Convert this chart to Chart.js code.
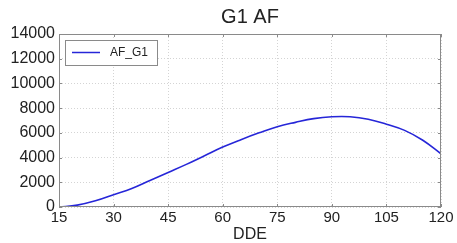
<!DOCTYPE html>
<html>
<head>
<meta charset="utf-8">
<script src="https://cdn.jsdelivr.net/npm/chart.js@4/dist/chart.umd.min.js"></script>
<style>
    html, body { margin: 0; padding: 0; background: #fff; }
    #wrap { width: 457px; height: 243px; }
</style>
</head>
<body>
<div id="wrap"><canvas id="afChart"></canvas></div>
<script>
// Data
const dde = [15, 20, 25, 30, 35, 40, 45, 50, 55, 60, 65, 70, 75, 80, 85, 90, 95, 100, 105, 110, 115, 120];
const afG1 = [0, 150, 500, 1000, 1500, 2150, 2800, 3450, 4150, 4850, 5450, 6000, 6500, 6850, 7150, 7300, 7300, 7100, 6700, 6200, 5400, 4300];
const xTicks = [15, 30, 45, 60, 75, 90, 105, 120];
const yTicks = [0, 2000, 4000, 6000, 8000, 10000, 12000, 14000];

const FONT = 'Arial, "Liberation Sans", sans-serif';
const LINE_COLOR = '#2626d8';

// Box round the plot, inward tick marks and the legend inside the plot
const framePlugin = {
    id: 'frame',
    afterDraw(chart) {
        const { ctx, chartArea: a, scales } = chart;
        ctx.save();
        ctx.strokeStyle = '#8a8a8a';
        ctx.lineWidth = 1;
        ctx.strokeRect(a.left + 0.5, a.top + 0.5, a.right - a.left - 1, a.bottom - a.top - 1);

        ctx.beginPath();
        xTicks.forEach(v => {
            const x = Math.round(scales.x.getPixelForValue(v)) + 0.5;
            ctx.moveTo(x, a.bottom); ctx.lineTo(x, a.bottom - 3);
            ctx.moveTo(x, a.top); ctx.lineTo(x, a.top + 3);
        });
        yTicks.forEach(v => {
            const y = Math.round(scales.y.getPixelForValue(v)) + 0.5;
            ctx.moveTo(a.left, y); ctx.lineTo(a.left + 3, y);
            ctx.moveTo(a.right, y); ctx.lineTo(a.right - 3, y);
        });
        ctx.stroke();

        // legend
        const lx = a.left + 6, ly = a.top + 6, lw = 92, lh = 25;
        ctx.fillStyle = '#fff';
        ctx.fillRect(lx, ly, lw, lh);
        ctx.strokeStyle = '#8a8a8a';
        ctx.strokeRect(lx + 0.5, ly + 0.5, lw, lh);
        ctx.strokeStyle = LINE_COLOR;
        ctx.lineWidth = 1.5;
        ctx.beginPath();
        ctx.moveTo(lx + 7, ly + 12.5);
        ctx.lineTo(lx + 35, ly + 12.5);
        ctx.stroke();
        ctx.fillStyle = '#222';
        ctx.font = '12px ' + FONT;
        ctx.textBaseline = 'middle';
        ctx.fillText(chart.data.datasets[0].label, lx + 45, ly + 13);
        ctx.restore();
    }
};

new Chart(document.getElementById('afChart'), {
    type: 'line',
    data: {
        labels: dde,
        datasets: [{
            label: 'AF_G1',
            data: dde.map((x, i) => ({ x, y: afG1[i] })),
            borderColor: LINE_COLOR,
            borderWidth: 1.6,
            pointRadius: 0,
            tension: 0.4,
            fill: false
        }]
    },
    options: {
        responsive: true,
        maintainAspectRatio: false,
        animation: false,
        layout: { padding: { top: 0, right: 16, bottom: 0, left: 0 } },
        plugins: {
            legend: { display: false },
            tooltip: { enabled: false },
            title: {
                display: true,
                fullSize: false,
                text: 'G1 AF',
                color: '#222',
                font: { family: FONT, size: 20, weight: 'normal' },
                padding: { top: 5, bottom: 5 }
            }
        },
        scales: {
            x: {
                type: 'linear',
                min: 15,
                max: 120,
                afterBuildTicks: axis => { axis.ticks = xTicks.map(v => ({ value: v })); },
                afterFit: axis => { axis.height = 36; },
                ticks: {
                    color: '#222',
                    padding: 2,
                    maxRotation: 0,
                    font: { family: FONT, size: 15 },
                    callback: v => String(v)
                },
                grid: { color: '#d4d4d4', drawTicks: false, lineWidth: 1 },
                border: { display: false, dash: [1, 2] },
                title: {
                    display: true,
                    text: 'DDE',
                    color: '#222',
                    font: { family: FONT, size: 16, lineHeight: 1 },
                    padding: { top: 0, bottom: 0 }
                }
            },
            y: {
                min: 0,
                max: 14000,
                afterBuildTicks: axis => { axis.ticks = yTicks.map(v => ({ value: v })); },
                afterFit: axis => { axis.width = 59; },
                ticks: {
                    color: '#222',
                    padding: 4,
                    font: { family: FONT, size: 16 },
                    callback: v => String(v)
                },
                grid: { color: '#d4d4d4', drawTicks: false, lineWidth: 1 },
                border: { display: false, dash: [1, 2] }
            }
        }
    },
    plugins: [framePlugin]
});
</script>
</body>
</html>
